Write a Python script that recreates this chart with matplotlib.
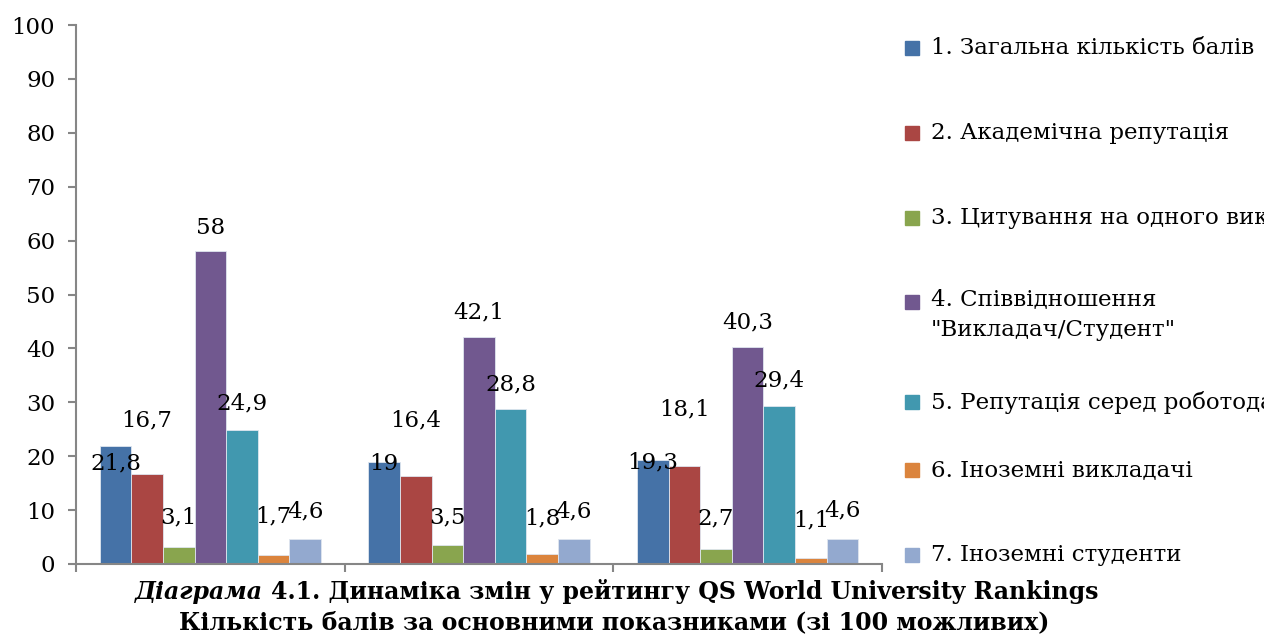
import matplotlib

matplotlib.use("Agg")
import matplotlib.pyplot as plt
from matplotlib.patches import Rectangle

plt.rcParams["font.family"] = ["DejaVu Serif"]

# ---- data ------------------------------------------------------------------
groups = ["1", "2", "3"]
series = [
    "1. Загальна кількість балів",
    "2. Академічна репутація",
    "3. Цитування на одного викладача",
    "4. Співвідношення\n\"Викладач/Студент\"",
    "5. Репутація серед роботодавців",
    "6. Іноземні викладачі",
    "7. Іноземні студенти",
]
g1 = [21.8, 16.7, 3.1, 58.0, 24.9, 1.7, 4.6]
g2 = [19.0, 16.4, 3.5, 42.1, 28.8, 1.8, 4.6]
g3 = [19.3, 18.1, 2.7, 40.3, 29.4, 1.1, 4.6]
labels1 = ["21,8", "16,7", "3,1", "58", "24,9", "1,7", "4,6"]
labels2 = ["19", "16,4", "3,5", "42,1", "28,8", "1,8", "4,6"]
labels3 = ["19,3", "18,1", "2,7", "40,3", "29,4", "1,1", "4,6"]

# where Excel dropped each data label (data units)
lab_y1 = [18.7, 26.7, 8.7, 62.3, 29.7, 8.8, 9.8]
lab_y2 = [18.6, 26.7, 8.7, 46.6, 33.4, 8.5, 9.8]
lab_y3 = [18.8, 28.6, 8.5, 44.9, 34.1, 8.1, 9.9]

colors = ["#4572A7", "#AA4643", "#89A54E", "#71588F", "#4198AF", "#DB843D", "#93A9CF"]

title1_it = "Діаграма"
title1 = "4.1. Динаміка змін у рейтингу QS World University Rankings"
title2 = "Кількість балів за основними показниками (зі 100 можливих)"

FS = 16.5
FT = 17
W, H = 1264, 642
fig = plt.figure(figsize=(W / 100, H / 100), dpi=100)
ax = fig.add_axes([76 / W, 78 / H, 806 / W, 539 / H])

n = len(series)
bw = 1 / (n + 1.5)
vals = [g1, g2, g3]
labs = [labels1, labels2, labels3]
laby = [lab_y1, lab_y2, lab_y3]
for gi in range(len(groups)):
    for si in range(n):
        x = gi + (si - (n - 1) / 2) * bw
        ax.bar(x, vals[gi][si], width=bw, color=colors[si], edgecolor="#dfe6ef",
               linewidth=0.6, zorder=2)
        ax.text(x, laby[gi][si], labs[gi][si], ha="center", va="center",
                fontsize=FS, color="black", zorder=3)

ax.set_xlim(-0.5, len(groups) - 0.5)
ax.set_ylim(0, 100)
ax.set_yticks(range(0, 101, 10))
ax.set_xticks([i - 0.5 for i in range(len(groups) + 1)])
ax.set_xticklabels([])
for s in ["top", "right"]:
    ax.spines[s].set_visible(False)
for s in ["left", "bottom"]:
    ax.spines[s].set_color("#868686")
    ax.spines[s].set_linewidth(1.5)
    ax.spines[s].set_zorder(4)
ax.tick_params(axis="both", direction="out", length=6, width=1.5, color="#868686",
               labelsize=FS, pad=9)

# ---- legend drawn by hand (Excel layout, long names run off the right edge) --
leg_y = [48, 133, 218, 302, 402, 470, 555]
for si in range(n):
    y = leg_y[si]
    fig.patches.append(Rectangle(((912 - 7) / W, (H - y - 7) / H), 14 / W, 14 / H,
                                 transform=fig.transFigure, color=colors[si]))
    if "\n" in series[si]:
        fig.text(931 / W, (H - y + 14) / H, series[si], ha="left", va="top",
                 fontsize=FS, linespacing=1.5)
    else:
        fig.text(931 / W, (H - y) / H, series[si], ha="left", va="center",
                 fontsize=FS)

# ---- caption under the chart ---------------------------------------------
r = fig.canvas.get_renderer()
ta = fig.text(0, (H - 592) / H, title1_it + " ", fontsize=FT, fontweight="bold",
              style="italic", va="center")
tb = fig.text(0, (H - 592) / H, title1, fontsize=FT, fontweight="bold", va="center")
wa = ta.get_window_extent(r).width
wb = tb.get_window_extent(r).width
x0 = 617 - (wa + wb) / 2
ta.set_x(x0 / W)
tb.set_x((x0 + wa) / W)
fig.text(614 / W, (H - 622) / H, title2, fontsize=FT, fontweight="bold",
         ha="center", va="center")

fig.savefig("out.png", dpi=100)
